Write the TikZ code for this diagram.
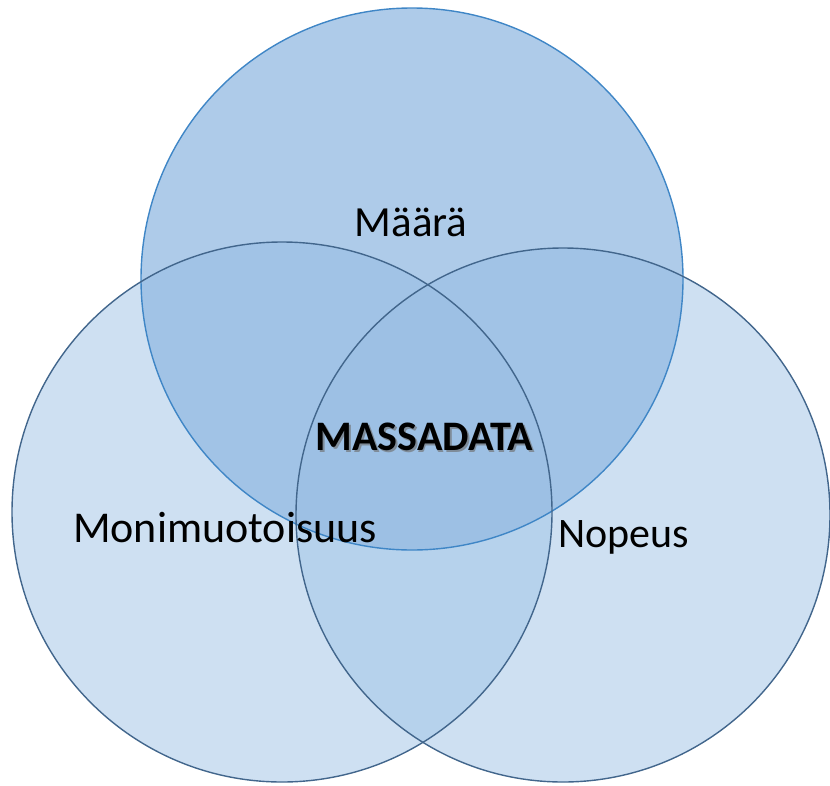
\documentclass[tikz,border=0pt]{standalone}
\usepackage{fontspec}
\setmainfont{Carlito}
\definecolor{sidefill}{HTML}{CEE0F2}
\definecolor{topfill}{HTML}{AECBE9}
\definecolor{tsfill}{HTML}{A1C3E6}
\definecolor{lrfill}{HTML}{B6D2EC}
\definecolor{cfill}{HTML}{9DC0E4}
\definecolor{topedge}{HTML}{3F86C6}
\definecolor{sideedge}{HTML}{42668C}
\definecolor{shadowc}{HTML}{7F8C99}
\newcommand\vtopc{(412,279) circle[radius=271]}
\newcommand\vleftc{(282,512) circle[radius=270]}
\newcommand\vrightc{(563,515) circle[radius=267]}
\begin{document}
\begin{tikzpicture}[x=1pt,y=-1pt,
  topline/.style={draw=topedge,line width=1.4pt},
  sideline/.style={draw=sideedge,line width=1.4pt},
  lbl/.style={anchor=base,inner sep=0pt,font=\fontsize{43}{50}\selectfont,text=black}]
\useasboundingbox (0,0) rectangle (830,785);
% region fills
\fill[sidefill] \vleftc;
\fill[sidefill] \vrightc;
\fill[topfill] \vtopc;
\begin{scope}
  \clip \vtopc;
  \fill[tsfill] \vleftc;
  \fill[tsfill] \vrightc;
\end{scope}
\begin{scope}
  \clip \vleftc;
  \fill[lrfill] \vrightc;
  \clip \vtopc;
  \fill[cfill] \vrightc;
\end{scope}
% outlines
\draw[topline] \vtopc;
\draw[sideline] \vleftc;
\draw[sideline] \vrightc;
\node[lbl] (maara) at (411,236) {Määrä};
\node[lbl,font=\fontsize{44}{50}\selectfont] (moni) at (225,542) {Monimuotoisuus};
\node[lbl,font=\fontsize{42}{50}\selectfont] (nopeus) at (624,547) {Nopeus};
\node[lbl,font=\fontsize{42}{50}\selectfont\bfseries] (massa) at (424.5,450)
  {\rlap{\hspace{1.5pt}\raisebox{-2pt}{\textcolor{shadowc}{MASSADATA}}}MASSADATA};
\end{tikzpicture}
\end{document}
